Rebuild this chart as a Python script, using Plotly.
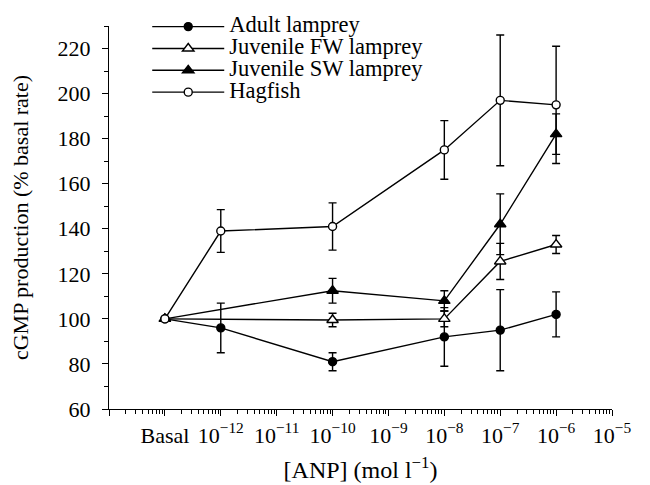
import plotly.graph_objects as go

# ---- data ----
x_basal = 1e-13  # position used for the "Basal" category on the log axis
conc_adult = [x_basal, 1e-12, 1e-10, 1e-8, 1e-7, 1e-6]
adult = [100, 96, 81, 92, 95, 102]
adult_err = [None, 11, 4, 13, 18, 10]

conc_fw = [x_basal, 1e-10, 1e-8, 1e-7, 1e-6]
juv_fw = [100, 99.5, 100, 125.5, 133]
juv_fw_err = [None, 3, 3.5, 8, 4]

conc_sw = [x_basal, 1e-10, 1e-8, 1e-7, 1e-6]
juv_sw = [100, 112.5, 108, 142, 182]
juv_sw_err = [None, 5.5, 4.5, 13.5, 9]

conc_hag = [x_basal, 1e-12, 1e-10, 1e-8, 1e-7, 1e-6]
hagfish = [100, 139, 141, 175, 197, 195]
hagfish_err = [None, 9.5, 10.5, 13, 29, 26]

x_exponents = list(range(-14, -4))
x_ticktext = ["", "Basal"] + ["10<sup>\u2212%d</sup>" % (-e) for e in range(-12, -4)]
y_ticks = list(range(60, 221, 20))

FONT = "Liberation Serif"
LEG = '<span style="font-size:22.5px">%s</span>'

fig = go.Figure()

def add(xs, ys, errs, name, symbol, fill, size):
    fig.add_trace(go.Scatter(
        x=xs, y=ys, name=LEG % name, mode="lines+markers",
        line=dict(color="black", width=1.4),
        marker=dict(symbol=symbol, size=size, color=fill,
                    line=dict(color="black", width=1.4)),
        error_y=dict(type="data", array=errs, visible=True,
                     color="black", thickness=1.4, width=4),
    ))

add(conc_adult, adult, adult_err, "Adult lamprey", "circle", "black", 8)
add(conc_fw, juv_fw, juv_fw_err, "Juvenile FW lamprey", "triangle-up", "white", 10)
add(conc_sw, juv_sw, juv_sw_err, "Juvenile SW lamprey", "triangle-up", "black", 10)
add(conc_hag, hagfish, hagfish_err, "Hagfish", "circle", "white", 8)

major = [10.0 ** e for e in x_exponents]
minor = [k * 10.0 ** e for e in x_exponents[:-1] for k in range(2, 10)]

fig.update_layout(
    width=650, height=485,
    margin=dict(l=101, r=46, t=3, b=84),
    paper_bgcolor="white", plot_bgcolor="white",
    font=dict(family=FONT, size=22, color="black"),
    showlegend=True,
    legend=dict(x=0.076, y=1.04, xanchor="left", yanchor="top",
                bgcolor="rgba(0,0,0,0)", font=dict(size=14.5, family=FONT),
                itemwidth=72, tracegroupgap=0),
    xaxis=dict(
        type="log", range=[-14, -5], automargin=False,
        tickmode="array", tickvals=major, ticktext=x_ticktext,
        ticks="outside", ticklen=6, tickwidth=1.4, tickcolor="black",
        ticklabelstandoff=0,
        minor=dict(tickmode="array", tickvals=minor, ticks="outside",
                   ticklen=4, tickwidth=1.2, tickcolor="black", showgrid=False),
        showline=True, linecolor="black", linewidth=1.4,
        showgrid=False, zeroline=False,
        title=dict(text="[ANP] (mol l<sup>\u22121</sup>)", standoff=14,
                   font=dict(size=24)),
        tickfont=dict(size=22),
    ),
    yaxis=dict(
        range=[60, 230], automargin=False,
        tickmode="array", tickvals=y_ticks,
        ticks="outside", ticklen=6, tickwidth=1.4, tickcolor="black",
        ticklabelstandoff=7,
        minor=dict(dtick=10, tick0=60, ticks="outside", ticklen=4,
                   tickwidth=1.2, tickcolor="black", showgrid=False),
        showline=True, linecolor="black", linewidth=1.4,
        showgrid=False, zeroline=False,
        title=dict(text="cGMP production (% basal rate)", standoff=27,
                   font=dict(size=22)),
        tickfont=dict(size=22),
    ),
)

fig.write_html("out.html")
